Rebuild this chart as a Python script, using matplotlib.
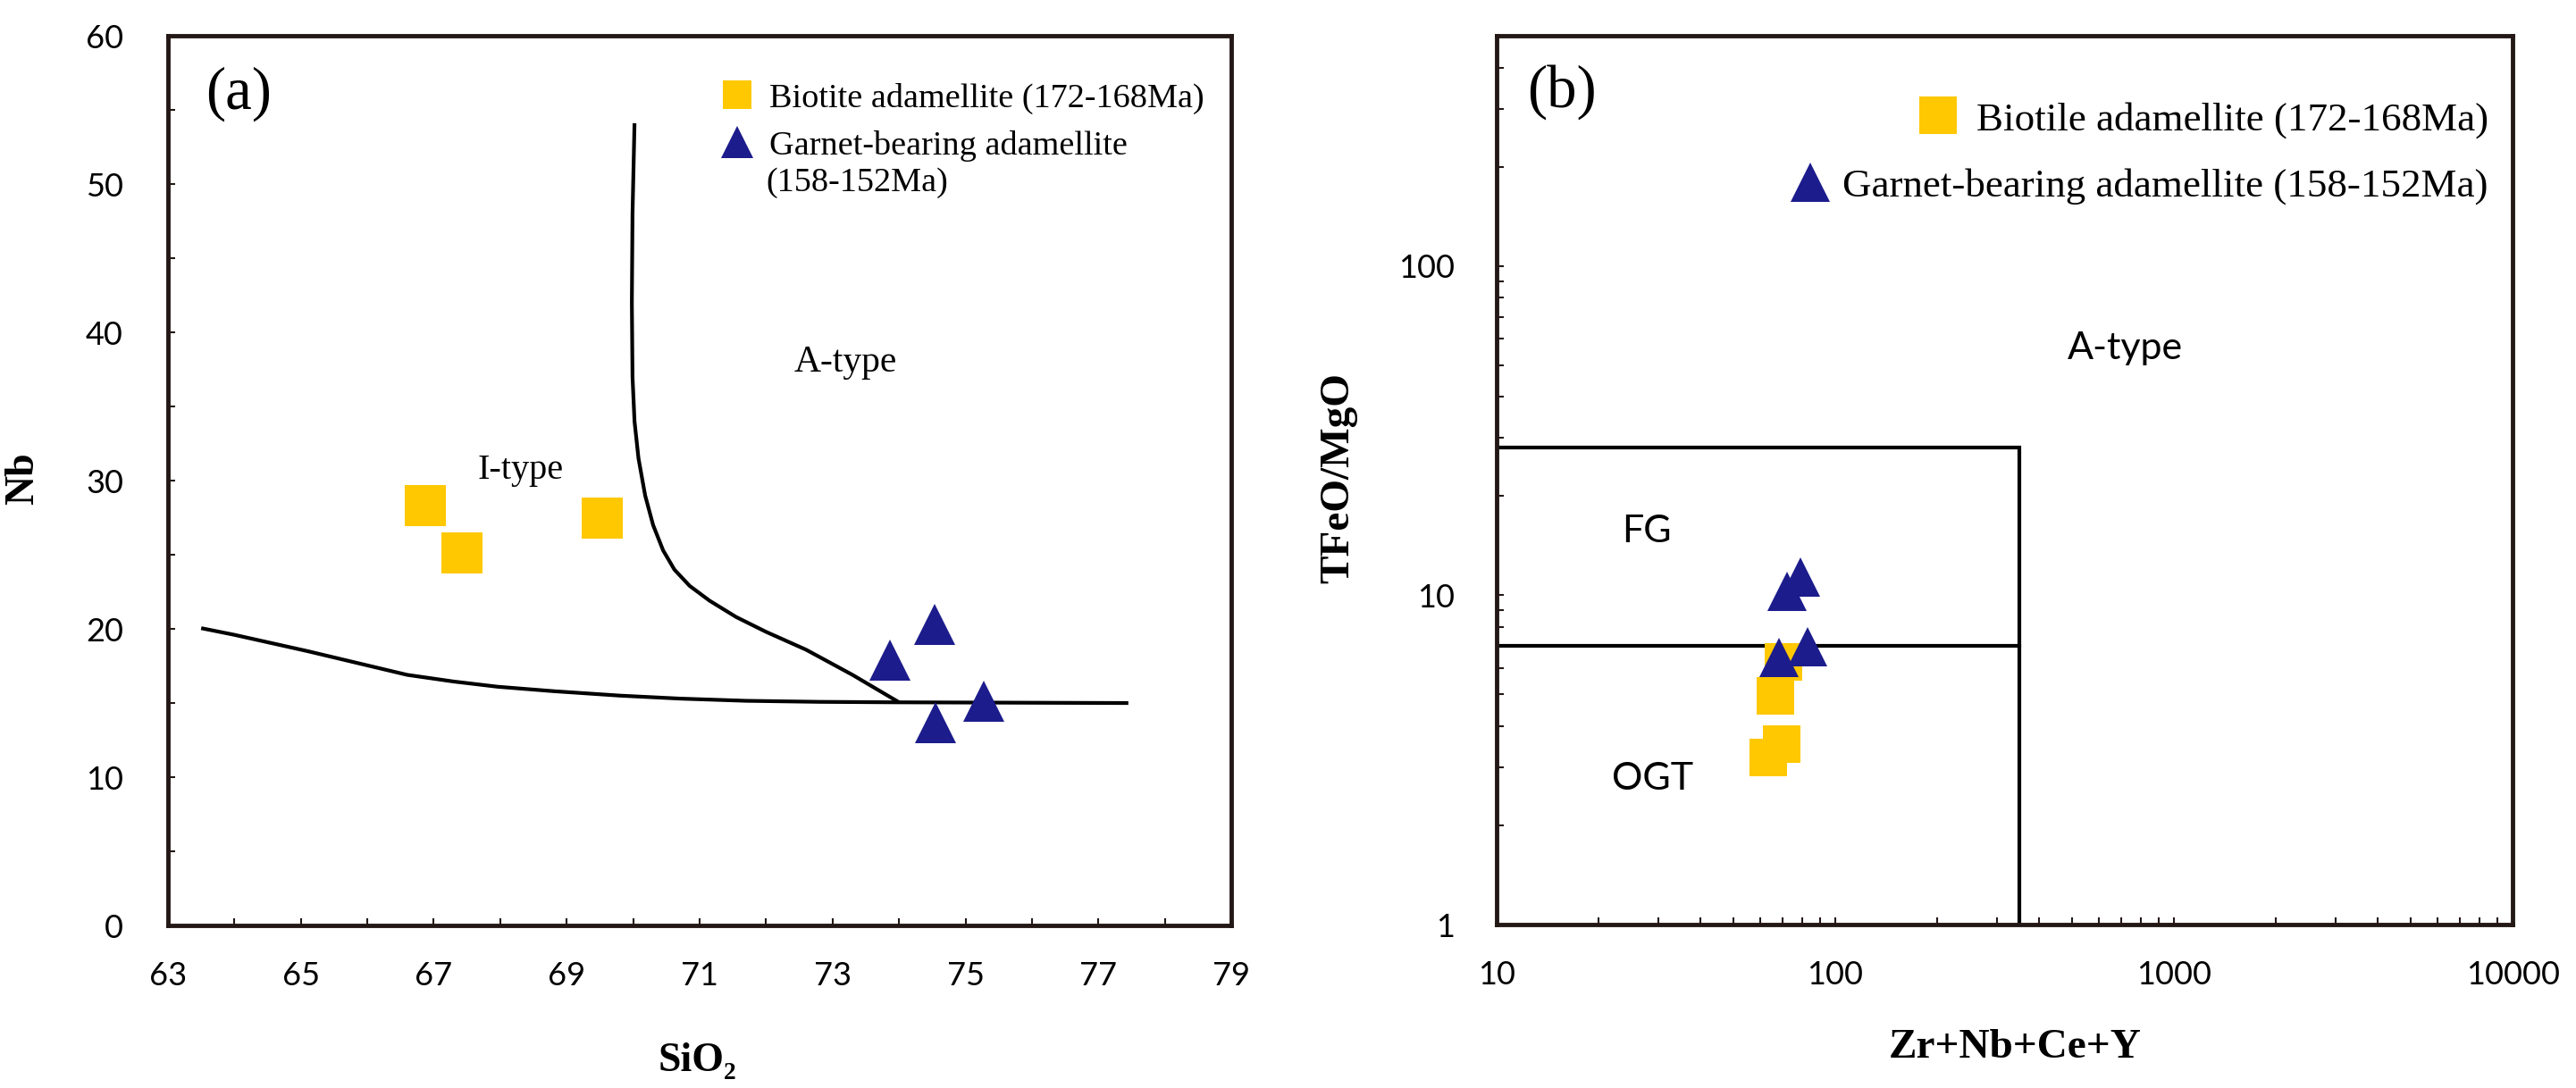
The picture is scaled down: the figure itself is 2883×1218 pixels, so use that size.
import matplotlib
matplotlib.use("Agg")
import matplotlib.pyplot as plt
from matplotlib.lines import Line2D
from matplotlib import ticker

# ---------------- data ----------------
# panel (a): SiO2 vs Nb
bio_sio2 = [66.87, 67.43, 69.53]
bio_nb = [28.3, 25.1, 27.5]
gar_sio2 = [73.87, 74.54, 75.28, 74.55]
gar_nb = [17.9, 20.3, 15.1, 13.7]

# discrimination boundaries (a)
bound1_x = [63.5, 64.0, 64.5, 65.1, 65.85, 66.6, 67.3, 67.96, 68.8, 69.8, 70.7, 71.7, 72.8, 73.9, 77.45]
bound1_y = [20.05, 19.6, 19.1, 18.5, 17.7, 16.9, 16.45, 16.1, 15.8, 15.5, 15.3, 15.15, 15.08, 15.05, 15.0]
bound2_x = [70.02, 69.99, 69.98, 69.99, 70.02, 70.08, 70.18, 70.3, 70.45, 70.62, 70.85, 71.15, 71.55, 72.0, 72.6, 73.3, 74.0]
bound2_y = [54.1, 48.0, 42.0, 37.0, 34.0, 31.5, 29.0, 27.0, 25.3, 24.0, 22.9, 21.9, 20.8, 19.8, 18.6, 16.9, 15.05]

# panel (b): Zr+Nb+Ce+Y vs TFeO/MgO
bio_zr = [70.3, 66.5, 69.4, 63.4]
bio_fe = [6.27, 4.95, 3.53, 3.22]
gar_zr = [78.9, 72.0, 82.8, 68.2]
gar_fe = [11.35, 10.27, 6.98, 6.47]

# boundaries (b)
box_x = [10, 350, 350]
box_y = [28, 28, 1]
fg_x = [10, 350]
fg_y = [7.0, 7.0]

xticks_a = [63, 65, 67, 69, 71, 73, 75, 77, 79]
yticks_a = [0, 10, 20, 30, 40, 50, 60]
xticks_b = [10, 100, 1000, 10000]
yticks_b = [1, 10, 100]

# ---------------- style ----------------
YEL = "#FFC800"
BLU = "#1C1C8C"
SPC = "#231815"
SERIF = ["Liberation Serif", "DejaVu Serif"]
SANS = ["Lato", "DejaVu Sans"]
TICKFS = 26

fig = plt.figure(figsize=(28.83, 12.18), dpi=100)
axa = fig.add_axes([0.0652, 0.1494, 0.4128, 0.8177])
axb = fig.add_axes([0.5810, 0.1502, 0.3944, 0.8170])

for ax in (axa, axb):
    for s in ax.spines.values():
        s.set_linewidth(3.5)
        s.set_color(SPC)
    ax.tick_params(which="both", direction="in", length=6, width=1.5, color=SPC)

# ---------------- panel a ----------------
axa.plot(bound1_x, bound1_y, color="black", lw=3, solid_capstyle="butt", zorder=2)
axa.plot(bound2_x, bound2_y, color="black", lw=3, solid_capstyle="butt", zorder=2)
axa.plot(bio_sio2, bio_nb, ls="none", marker="s", ms=33, mew=0, color=YEL, zorder=3)
axa.plot(gar_sio2, gar_nb, ls="none", marker="^", ms=32.5, mew=0, color=BLU, zorder=4)

axa.set_xlim(63, 79)
axa.set_ylim(0, 60)
axa.set_xticks(xticks_a)
axa.set_yticks(yticks_a)
axa.xaxis.set_minor_locator(ticker.MultipleLocator(1))
axa.yaxis.set_minor_locator(ticker.MultipleLocator(5))
axa.tick_params(axis="x", which="major", pad=29)
axa.tick_params(axis="y", which="major", pad=36)
for lab in axa.get_xticklabels() + axa.get_yticklabels():
    lab.set_family(SANS)
    lab.set_fontsize(TICKFS)

axa.set_xlabel("SiO₂", family=SERIF, fontsize=33, fontweight="bold")
axa.xaxis.set_label_coords(0.4975, -0.132)
axa.xaxis.label.set_va("top")
axa.set_ylabel("Nb", family=SERIF, fontsize=33, fontweight="bold")
axa.yaxis.set_label_coords(-0.118, 0.502)

axa.text(64.06, 56.1, "(a)", family=SERIF, fontsize=48, ha="center", va="center")
axa.text(68.3, 30.7, "I-type", family=SERIF, fontsize=29, ha="center", va="center")
axa.text(73.2, 37.95, "A-type", family=SERIF, fontsize=30, ha="center", va="center")

ha1 = Line2D([], [], ls="none", marker="s", ms=23, mew=0, color=YEL)
ha2 = Line2D([], [], ls="none", marker="^", ms=26, mew=0, color=BLU)
lega = axa.legend([ha1, ha2], ["Biotite adamellite (172-168Ma)", "Garnet-bearing adamellite"],
                  loc="upper left", bbox_to_anchor=(0.519, 0.947), frameon=False,
                  prop={"family": SERIF, "size": 27.5}, handlelength=1.0,
                  handletextpad=0.45, labelspacing=0.46, borderpad=0, borderaxespad=0,
                  numpoints=1)
axa.text(0.5624, 0.8346, "(158-152Ma)", transform=axa.transAxes, family=SERIF,
         fontsize=27.5, ha="left", va="center")

# ---------------- panel b ----------------
axb.set_xscale("log")
axb.set_yscale("log")
axb.plot(box_x, box_y, color="black", lw=3, solid_joinstyle="miter", zorder=2)
axb.plot(fg_x, fg_y, color="black", lw=3, zorder=2)
axb.plot(bio_zr, bio_fe, ls="none", marker="s", ms=30, mew=0, color=YEL, zorder=3)
axb.plot(gar_zr, gar_fe, ls="none", marker="^", ms=32, mew=0, color=BLU, zorder=4)

axb.set_xlim(10, 10000)
axb.set_ylim(1, 500)
axb.xaxis.set_major_locator(ticker.FixedLocator(xticks_b))
axb.yaxis.set_major_locator(ticker.FixedLocator(yticks_b))
fmt = ticker.FuncFormatter(lambda v, p: f"{v:g}")
axb.xaxis.set_major_formatter(fmt)
axb.yaxis.set_major_formatter(fmt)
axb.xaxis.set_minor_locator(ticker.LogLocator(base=10, subs=range(2, 10), numticks=20))
axb.yaxis.set_minor_locator(ticker.LogLocator(base=10, subs=range(2, 10), numticks=20))
axb.xaxis.set_minor_formatter(ticker.NullFormatter())
axb.yaxis.set_minor_formatter(ticker.NullFormatter())
axb.tick_params(axis="x", which="major", pad=29)
axb.tick_params(axis="y", which="major", pad=34)
for lab in axb.get_xticklabels() + axb.get_yticklabels():
    lab.set_family(SANS)
    lab.set_fontsize(TICKFS)

axb.set_xlabel("Zr+Nb+Ce+Y", family=SERIF, fontsize=34, fontweight="bold")
axb.xaxis.set_label_coords(0.510, -0.118)
axb.xaxis.label.set_va("top")
axb.set_ylabel("TFeO/MgO", family=SERIF, fontsize=34, fontweight="bold")
axb.yaxis.set_label_coords(-0.137, 0.5025)

axb.text(0.064, 0.937, "(b)", transform=axb.transAxes, family=SERIF, fontsize=48,
         ha="center", va="center")
axb.text(716, 56.1, "A-type", family=SANS, fontsize=31, ha="center", va="center")
axb.text(27.7, 15.6, "FG", family=SANS, fontsize=31, ha="center", va="center")
axb.text(28.8, 2.77, "OGT", family=SANS, fontsize=31, ha="center", va="center")

hb1 = Line2D([], [], ls="none", marker="s", ms=30, mew=0, color=YEL)
hb2 = Line2D([], [], ls="none", marker="^", ms=32, mew=0, color=BLU)
legb1 = axb.legend([hb1], ["Biotile adamellite (172-168Ma)"], loc="upper right",
                   bbox_to_anchor=(0.976, 0.926), frameon=False,
                   prop={"family": SERIF, "size": 32.4}, handlelength=1.0,
                   handletextpad=0.45, borderpad=0, borderaxespad=0, numpoints=1)
axb.add_artist(legb1)
legb2 = axb.legend([hb2], ["Garnet-bearing adamellite (158-152Ma)"], loc="upper right",
                   bbox_to_anchor=(0.976, 0.851), frameon=False,
                   prop={"family": SERIF, "size": 32.4}, handlelength=1.0,
                   handletextpad=0.3, borderpad=0, borderaxespad=0, numpoints=1)

fig.savefig("out.png", dpi=100, facecolor="white")
